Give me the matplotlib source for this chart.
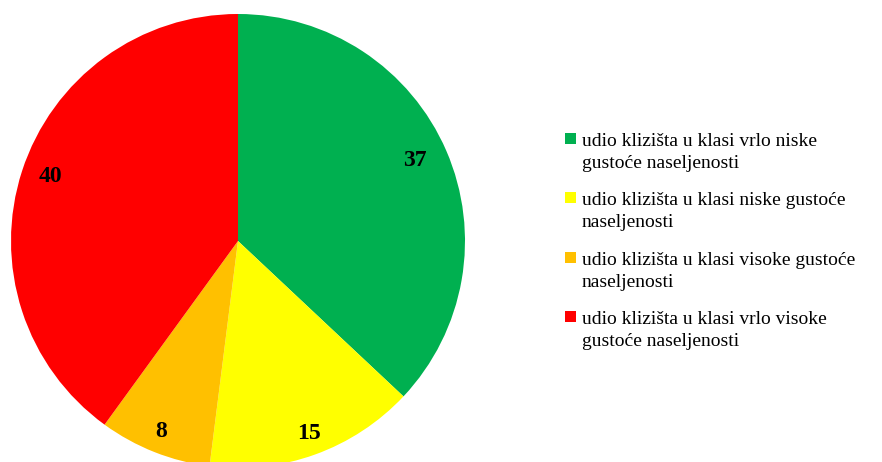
import numpy as np
import matplotlib.pyplot as plt
from matplotlib.patches import Rectangle

plt.rcParams['font.family'] = ['Liberation Serif', 'DejaVu Serif']

labels = [
    "udio klizišta u klasi vrlo niske\ngustoće naseljenosti",
    "udio klizišta u klasi niske gustoće\nnaseljenosti",
    "udio klizišta u klasi visoke gustoće\nnaseljenosti",
    "udio klizišta u klasi vrlo visoke\ngustoće naseljenosti",
]
values = [37, 15, 8, 40]
colors = ["#00B050", "#FFFF00", "#FFC000", "#FF0000"]

W, H = 882, 462
fig = plt.figure(figsize=(W / 100, H / 100), dpi=100)

# pie area: centre (238, 241) px, radius 227 px
cx, cy, r = 238, 241, 227
ax = fig.add_axes([(cx - r) / W, (H - cy - r) / H, 2 * r / W, 2 * r / H])
wedges, _ = ax.pie(values, colors=colors, startangle=90, counterclock=False, radius=1)
ax.set_xlim(-1, 1)
ax.set_ylim(-1, 1)
ax.set_aspect('equal')
ax.axis('off')

# value labels on each wedge's bisector, nudged up a few pixels
dist = [0.85, 0.92, 0.92, 0.87]
for w, v, d in zip(wedges, values, dist):
    a = np.deg2rad((w.theta1 + w.theta2) / 2)
    ax.annotate(str(v), (d * np.cos(a), d * np.sin(a)), xytext=(0, 4.5),
                textcoords='offset points', fontsize=17, fontweight='bold',
                ha='center', va='center_baseline')

# legend drawn in figure pixels
y0, step = 147, 59.3
for i, (lab, col) in enumerate(zip(labels, colors)):
    y = y0 + i * step
    fig.add_artist(Rectangle((565 / W, (H - y + 3) / H), 11 / W, 11 / H,
                             transform=fig.transFigure, facecolor=col, edgecolor='none'))
    fig.text(582 / W, (H - y + 14) / H, lab, fontsize=14, ha='left', va='top',
             linespacing=1.38)

fig.savefig("out.png", dpi=100)
